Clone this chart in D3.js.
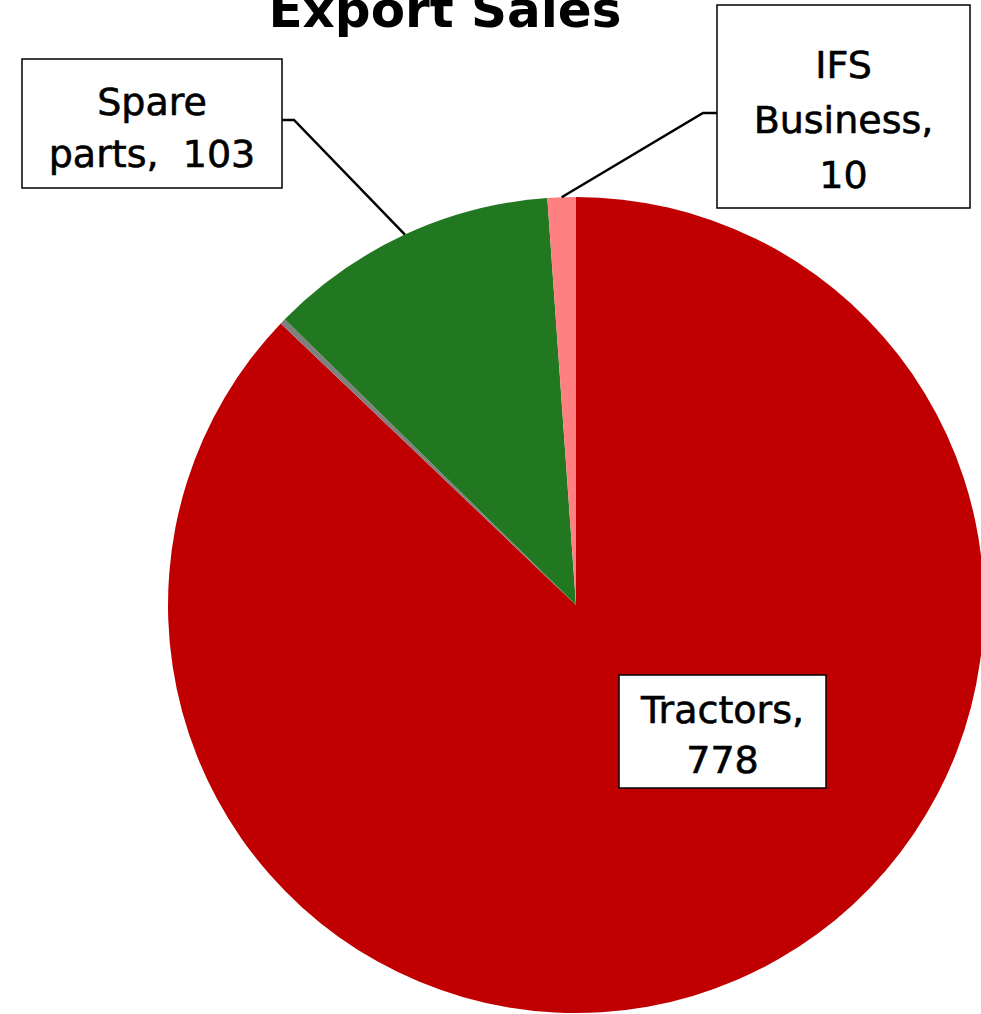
<!DOCTYPE html>
<html>
<head>
<meta charset="utf-8">
<script src="https://cdn.jsdelivr.net/npm/d3@7"></script>
<style>
  body { margin: 0; background: #fff; }
  svg { display: block; }
</style>
</head>
<body>
<div id="chart"></div>
<script>
const categories = ["Tractors", "Others", "Spare parts", "IFS Business"];
const values = [778, 2, 103, 10];
const colors = ["#C00000", "#808080", "#217821", "#FF8080"];
// lines of each data label (null = no label)
const labelLines = [
  ["Tractors,", "778"],
  null,
  ["Spare", "parts,  103"],
  ["IFS", "Business,", "10"]
];

const width = 981, height = 1014;
const cx = 576, cy = 605, radius = 408;

const svg = d3.select("#chart")
  .append("svg")
  .attr("width", width)
  .attr("height", height);

// titulo (cortado arriba como en el original)
svg.append("text")
  .attr("x", 445)
  .attr("y", 27)
  .attr("text-anchor", "middle")
  .attr("font-family", "DejaVu Sans, sans-serif")
  .attr("font-weight", "bold")
  .attr("font-size", 50)
  .text("Export Sales");

const datos = categories.map((c, i) => ({ name: c, value: values[i], color: colors[i], lines: labelLines[i] }));

const pie = d3.pie().sort(null).value(d => d.value);
const arc = d3.arc().innerRadius(0).outerRadius(radius);
const arcs = pie(datos);

const g = svg.append("g").attr("transform", `translate(${cx},${cy})`);

g.selectAll("path.slice")
  .data(arcs)
  .enter().append("path")
  .attr("class", "slice")
  .attr("d", arc)
  .attr("fill", d => d.data.color);

// cajas de etiquetas (posición de la caja, punto de quiebre del conector)
const cajas = {
  "Tractors": { x: 619, y: 675, w: 207, h: 113, baselines: [723, 773], leader: null },
  "Spare parts": { x: 22, y: 59, w: 260, h: 129, baselines: [115, 167], leader: { side: "right", y: 120, bend: 12 } },
  "IFS Business": { x: 717, y: 5, w: 253, h: 203, baselines: [78, 133, 188], leader: { side: "left", y: 113, bend: 14 } }
};

arcs.forEach(a => {
  const d = a.data;
  if (!d.lines) return;
  const c = cajas[d.name];

  if (c.leader) {
    const mid = (a.startAngle + a.endAngle) / 2;
    const px = cx + radius * Math.sin(mid);
    const py = cy - radius * Math.cos(mid);
    const ex = c.leader.side === "right" ? c.x + c.w : c.x;
    const bx = c.leader.side === "right" ? ex + c.leader.bend : ex - c.leader.bend;
    svg.append("polyline")
      .attr("points", `${ex},${c.leader.y} ${bx},${c.leader.y} ${px},${py}`)
      .attr("fill", "none")
      .attr("stroke", "black")
      .attr("stroke-width", 2.5);
  }

  svg.append("rect")
    .attr("x", c.x)
    .attr("y", c.y)
    .attr("width", c.w)
    .attr("height", c.h)
    .attr("fill", "white")
    .attr("stroke", "black")
    .attr("stroke-width", 1.5);

  d.lines.forEach((t, i) => {
    svg.append("text")
      .attr("x", c.x + c.w / 2)
      .attr("y", c.baselines[i])
      .attr("text-anchor", "middle")
      .attr("font-family", "DejaVu Sans, sans-serif")
      .attr("font-size", 38)
      .style("white-space", "pre")
      .attr("fill", "black")
      .attr("stroke", "black")
      .attr("stroke-width", 0.6)
      .text(t);
  });
});
</script>
</body>
</html>
